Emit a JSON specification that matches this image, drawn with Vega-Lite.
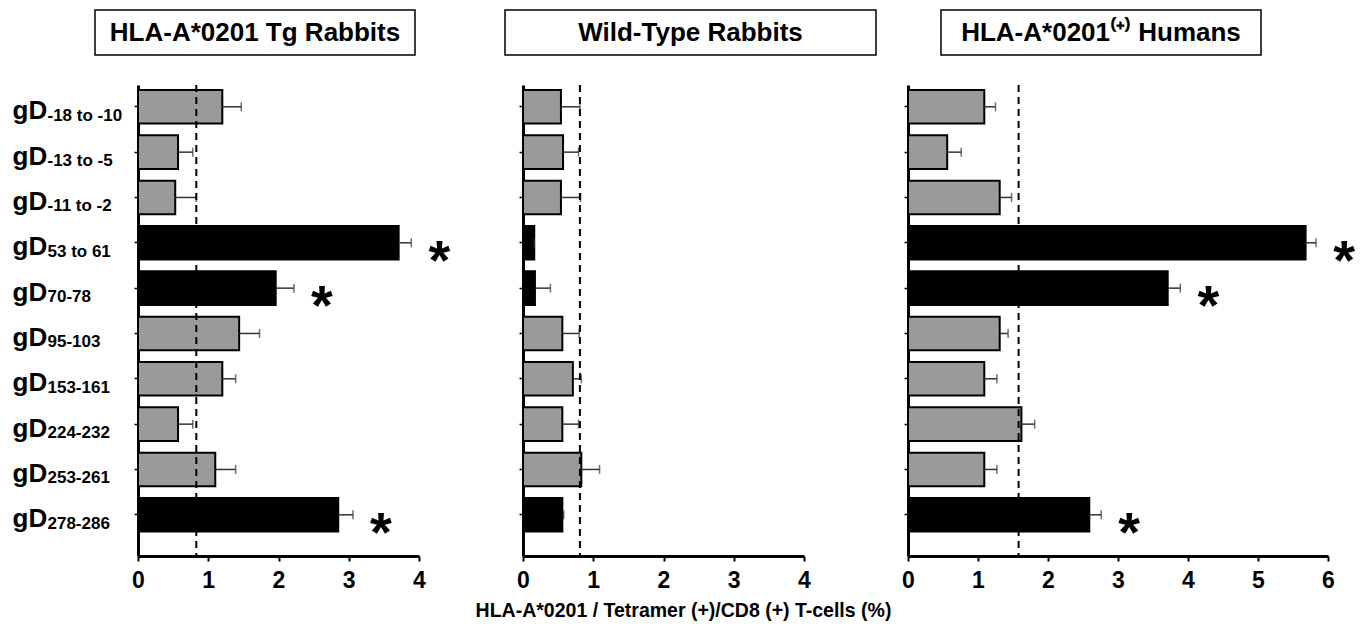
{
  "$schema": "https://vega.github.io/schema/vega-lite/v6.json",
  "background": "white",
  "padding": {"left": 12, "top": 9, "right": 5, "bottom": 5},
  "config": {
    "font": "Liberation Sans",
    "view": {"stroke": null},
    "axis": {"grid": false, "domainColor": "black", "tickColor": "black", "labelColor": "black", "labelFont": "Liberation Sans", "labelFontWeight": "bold"},
    "title": {"font": "Liberation Sans"}
  },
  "title": {"text": "HLA-A*0201 / Tetramer (+)/CD8 (+) T-cells (%)", "orient": "bottom", "anchor": "middle", "fontSize": 19.5, "fontWeight": "bold", "color": "black", "offset": 10},
  "datasets": {
    "bars": [
      {"panel": "tg", "epitope": "-18 to -10", "mean": 1.20, "upper": 1.47, "dominant": "no", "star": false},
      {"panel": "tg", "epitope": "-13 to -5", "mean": 0.57, "upper": 0.78, "dominant": "no", "star": false},
      {"panel": "tg", "epitope": "-11 to -2", "mean": 0.53, "upper": 0.83, "dominant": "no", "star": false},
      {"panel": "tg", "epitope": "53 to 61", "mean": 3.71, "upper": 3.89, "dominant": "yes", "star": true},
      {"panel": "tg", "epitope": "70-78", "mean": 1.96, "upper": 2.22, "dominant": "yes", "star": true},
      {"panel": "tg", "epitope": "95-103", "mean": 1.44, "upper": 1.73, "dominant": "no", "star": false},
      {"panel": "tg", "epitope": "153-161", "mean": 1.20, "upper": 1.39, "dominant": "no", "star": false},
      {"panel": "tg", "epitope": "224-232", "mean": 0.57, "upper": 0.78, "dominant": "no", "star": false},
      {"panel": "tg", "epitope": "253-261", "mean": 1.10, "upper": 1.39, "dominant": "no", "star": false},
      {"panel": "tg", "epitope": "278-286", "mean": 2.85, "upper": 3.06, "dominant": "yes", "star": true},
      {"panel": "wt", "epitope": "-18 to -10", "mean": 0.54, "upper": 0.81, "dominant": "no", "star": false},
      {"panel": "wt", "epitope": "-13 to -5", "mean": 0.57, "upper": 0.79, "dominant": "no", "star": false},
      {"panel": "wt", "epitope": "-11 to -2", "mean": 0.54, "upper": 0.82, "dominant": "no", "star": false},
      {"panel": "wt", "epitope": "53 to 61", "mean": 0.16, "upper": 0.16, "dominant": "yes", "star": false},
      {"panel": "wt", "epitope": "70-78", "mean": 0.17, "upper": 0.39, "dominant": "yes", "star": false},
      {"panel": "wt", "epitope": "95-103", "mean": 0.56, "upper": 0.80, "dominant": "no", "star": false},
      {"panel": "wt", "epitope": "153-161", "mean": 0.71, "upper": 0.83, "dominant": "no", "star": false},
      {"panel": "wt", "epitope": "224-232", "mean": 0.56, "upper": 0.79, "dominant": "no", "star": false},
      {"panel": "wt", "epitope": "253-261", "mean": 0.83, "upper": 1.09, "dominant": "no", "star": false},
      {"panel": "wt", "epitope": "278-286", "mean": 0.56, "upper": 0.58, "dominant": "yes", "star": false},
      {"panel": "hu", "epitope": "-18 to -10", "mean": 1.09, "upper": 1.25, "dominant": "no", "star": false},
      {"panel": "hu", "epitope": "-13 to -5", "mean": 0.56, "upper": 0.76, "dominant": "no", "star": false},
      {"panel": "hu", "epitope": "-11 to -2", "mean": 1.31, "upper": 1.48, "dominant": "no", "star": false},
      {"panel": "hu", "epitope": "53 to 61", "mean": 5.68, "upper": 5.83, "dominant": "yes", "star": true},
      {"panel": "hu", "epitope": "70-78", "mean": 3.71, "upper": 3.89, "dominant": "yes", "star": true},
      {"panel": "hu", "epitope": "95-103", "mean": 1.31, "upper": 1.43, "dominant": "no", "star": false},
      {"panel": "hu", "epitope": "153-161", "mean": 1.09, "upper": 1.27, "dominant": "no", "star": false},
      {"panel": "hu", "epitope": "224-232", "mean": 1.62, "upper": 1.81, "dominant": "no", "star": false},
      {"panel": "hu", "epitope": "253-261", "mean": 1.09, "upper": 1.27, "dominant": "no", "star": false},
      {"panel": "hu", "epitope": "278-286", "mean": 2.59, "upper": 2.76, "dominant": "yes", "star": true}
    ],
    "cutoffs": [
      {"panel": "tg", "cutoff": 0.83},
      {"panel": "wt", "cutoff": 0.81},
      {"panel": "hu", "cutoff": 1.58}
    ]
  },
  "spacing": 28,
  "vconcat": [
    {
      "spacing": 0,
      "bounds": "flush",
      "hconcat": [
        {"width": 83, "height": 45, "data": {"values": []}, "mark": "point"},
        {"width": 320, "height": 45, "view": {"stroke": "black", "strokeWidth": 1.5},
         "data": {"values": [{"t": "HLA-A*0201  Tg Rabbits"}]},
         "mark": {"type": "text", "fontSize": 26, "fontWeight": "bold", "color": "black", "font": "Liberation Sans"},
         "encoding": {"text": {"field": "t"}}},
        {"width": 90, "height": 45, "data": {"values": []}, "mark": "point"},
        {"width": 371, "height": 45, "view": {"stroke": "black", "strokeWidth": 1.5},
         "data": {"values": [{"t": "Wild-Type Rabbits"}]},
         "mark": {"type": "text", "fontSize": 26, "fontWeight": "bold", "color": "black", "font": "Liberation Sans"},
         "encoding": {"text": {"field": "t"}}},
        {"width": 65, "height": 45, "data": {"values": []}, "mark": "point"},
        {"width": 320, "height": 45, "view": {"stroke": "black", "strokeWidth": 1.5},
         "data": {"values": [{"t": "HLA-A*0201⁽⁺⁾ Humans"}]},
         "mark": {"type": "text", "fontSize": 26, "fontWeight": "bold", "color": "black", "font": "Liberation Sans"},
         "encoding": {"text": {"field": "t"}}}
      ]
    },
    {
      "spacing": 104,
      "bounds": "flush",
      "hconcat": [
        {
          "width": 22, "height": 471,
          "resolve": {"axis": {"y": "independent"}},
          "layer": [
            {
              "data": {"name": "bars"},
              "transform": [{"filter": "datum.panel === 'tg'"}],
              "mark": {"type": "point", "opacity": 0, "size": 0},
              "encoding": {
                "x": {"datum": 0.5, "type": "quantitative", "scale": {"domain": [0, 1]}, "axis": null},
                "y": {"field": "epitope", "type": "nominal", "sort": null,
                      "scale": {"type": "band", "paddingInner": 0.26, "paddingOuter": 0.325, "align": 0.171},
                      "axis": {"title": null, "orient": "left", "labelExpr": "'gD'", "labelAlign": "left", "labelPadding": 0, "ticks": false, "tickSize": 0, "domain": false, "labelFontSize": 26, "labelBaseline": "alphabetic", "labelOffset": 12.5, "labelOverlap": false}}
              }
            },
            {
              "data": {"name": "bars"},
              "transform": [{"filter": "datum.panel === 'tg'"}],
              "mark": {"type": "point", "opacity": 0, "size": 0},
              "encoding": {
                "x": {"datum": 0.5, "type": "quantitative", "axis": null},
                "y": {"field": "epitope", "type": "nominal", "sort": null,
                      "axis": {"title": null, "orient": "right", "labelAlign": "left", "labelPadding": 13, "ticks": false, "tickSize": 0, "domain": false, "labelFontSize": 17, "labelBaseline": "alphabetic", "labelOffset": 14, "labelOverlap": false}}
              }
            }
          ]
        },
        {
          "width": 281, "height": 471,
          "layer": [
            {
              "data": {"name": "bars"},
              "transform": [{"filter": "datum.panel === 'tg'"}],
              "mark": {"type": "bar", "stroke": "black", "strokeWidth": 2},
              "encoding": {
                "y": {"field": "epitope", "type": "nominal", "sort": null,
                      "scale": {"paddingInner": 0.26, "paddingOuter": 0.325, "align": 0.171},
                      "axis": {"title": null, "labels": false, "tickSize": 4, "tickWidth": 1.5, "domainWidth": 3}},
                "x": {"field": "mean", "type": "quantitative",
                      "scale": {"domain": [0, 4], "nice": false},
                      "axis": {"title": null, "values": [0, 0.5, 1, 1.5, 2, 2.5, 3, 3.5, 4], "labelExpr": "datum.value % 1 === 0 ? '' + datum.value : ''", "domainWidth": 3, "tickWidth": 2, "tickSize": 5, "labelFontSize": 23, "labelPadding": 8, "labelFlush": false, "labelOverlap": false}},
                "fill": {"field": "dominant", "type": "nominal", "scale": {"domain": ["yes", "no"], "range": ["black", "#9a9a9a"]}, "legend": null}
              }
            },
            {
              "data": {"name": "bars"},
              "transform": [{"filter": "datum.panel === 'tg'"}],
              "mark": {"type": "rule", "strokeWidth": 1.5, "color": "#333"},
              "encoding": {
                "y": {"field": "epitope", "type": "nominal", "sort": null, "axis": {"title": null}},
                "x": {"field": "mean", "type": "quantitative", "axis": {"title": null}},
                "x2": {"field": "upper"}
              }
            },
            {
              "data": {"name": "bars"},
              "transform": [{"filter": "datum.panel === 'tg'"}],
              "mark": {"type": "tick", "thickness": 1.5, "size": 9, "color": "#333"},
              "encoding": {
                "y": {"field": "epitope", "type": "nominal", "sort": null, "axis": {"title": null}},
                "x": {"field": "upper", "type": "quantitative", "axis": {"title": null}}
              }
            },
            {
              "data": {"name": "cutoffs"},
              "transform": [{"filter": "datum.panel === 'tg'"}],
              "mark": {"type": "rule", "strokeWidth": 2, "strokeDash": [7, 5], "color": "black"},
              "encoding": {"x": {"field": "cutoff", "type": "quantitative", "axis": {"title": null}}}
            },
            {
              "data": {"name": "bars"},
              "transform": [{"filter": "datum.panel === 'tg' && datum.star"}],
              "mark": {"type": "text", "text": "*", "fontSize": 56, "fontWeight": "bold", "font": "Liberation Sans", "align": "center", "baseline": "alphabetic", "dx": 28, "dy": 36, "color": "black"},
              "encoding": {
                "y": {"field": "epitope", "type": "nominal", "sort": null, "axis": {"title": null}},
                "x": {"field": "upper", "type": "quantitative", "axis": {"title": null}}
              }
            }
          ]
        },
        {
          "width": 281, "height": 471,
          "layer": [
            {
              "data": {"name": "bars"},
              "transform": [{"filter": "datum.panel === 'wt'"}],
              "mark": {"type": "bar", "stroke": "black", "strokeWidth": 2},
              "encoding": {
                "y": {"field": "epitope", "type": "nominal", "sort": null,
                      "scale": {"paddingInner": 0.26, "paddingOuter": 0.325, "align": 0.171},
                      "axis": {"title": null, "labels": false, "tickSize": 4, "tickWidth": 1.5, "domainWidth": 3}},
                "x": {"field": "mean", "type": "quantitative",
                      "scale": {"domain": [0, 4], "nice": false},
                      "axis": {"title": null, "values": [0, 0.5, 1, 1.5, 2, 2.5, 3, 3.5, 4], "labelExpr": "datum.value % 1 === 0 ? '' + datum.value : ''", "domainWidth": 3, "tickWidth": 2, "tickSize": 5, "labelFontSize": 23, "labelPadding": 8, "labelFlush": false, "labelOverlap": false}},
                "fill": {"field": "dominant", "type": "nominal", "scale": {"domain": ["yes", "no"], "range": ["black", "#9a9a9a"]}, "legend": null}
              }
            },
            {
              "data": {"name": "bars"},
              "transform": [{"filter": "datum.panel === 'wt'"}],
              "mark": {"type": "rule", "strokeWidth": 1.5, "color": "#333"},
              "encoding": {
                "y": {"field": "epitope", "type": "nominal", "sort": null, "axis": {"title": null}},
                "x": {"field": "mean", "type": "quantitative", "axis": {"title": null}},
                "x2": {"field": "upper"}
              }
            },
            {
              "data": {"name": "bars"},
              "transform": [{"filter": "datum.panel === 'wt'"}],
              "mark": {"type": "tick", "thickness": 1.5, "size": 9, "color": "#333"},
              "encoding": {
                "y": {"field": "epitope", "type": "nominal", "sort": null, "axis": {"title": null}},
                "x": {"field": "upper", "type": "quantitative", "axis": {"title": null}}
              }
            },
            {
              "data": {"name": "cutoffs"},
              "transform": [{"filter": "datum.panel === 'wt'"}],
              "mark": {"type": "rule", "strokeWidth": 2, "strokeDash": [7, 5], "color": "black"},
              "encoding": {"x": {"field": "cutoff", "type": "quantitative", "axis": {"title": null}}}
            }
          ]
        },
        {
          "width": 420, "height": 471,
          "layer": [
            {
              "data": {"name": "bars"},
              "transform": [{"filter": "datum.panel === 'hu'"}],
              "mark": {"type": "bar", "stroke": "black", "strokeWidth": 2},
              "encoding": {
                "y": {"field": "epitope", "type": "nominal", "sort": null,
                      "scale": {"paddingInner": 0.26, "paddingOuter": 0.325, "align": 0.171},
                      "axis": {"title": null, "labels": false, "tickSize": 4, "tickWidth": 1.5, "domainWidth": 3}},
                "x": {"field": "mean", "type": "quantitative",
                      "scale": {"domain": [0, 6], "nice": false},
                      "axis": {"title": null, "values": [0, 0.5, 1, 1.5, 2, 2.5, 3, 3.5, 4, 4.5, 5, 5.5, 6], "labelExpr": "datum.value % 1 === 0 ? '' + datum.value : ''", "domainWidth": 3, "tickWidth": 2, "tickSize": 5, "labelFontSize": 23, "labelPadding": 8, "labelFlush": false, "labelOverlap": false}},
                "fill": {"field": "dominant", "type": "nominal", "scale": {"domain": ["yes", "no"], "range": ["black", "#9a9a9a"]}, "legend": null}
              }
            },
            {
              "data": {"name": "bars"},
              "transform": [{"filter": "datum.panel === 'hu'"}],
              "mark": {"type": "rule", "strokeWidth": 1.5, "color": "#333"},
              "encoding": {
                "y": {"field": "epitope", "type": "nominal", "sort": null, "axis": {"title": null}},
                "x": {"field": "mean", "type": "quantitative", "axis": {"title": null}},
                "x2": {"field": "upper"}
              }
            },
            {
              "data": {"name": "bars"},
              "transform": [{"filter": "datum.panel === 'hu'"}],
              "mark": {"type": "tick", "thickness": 1.5, "size": 9, "color": "#333"},
              "encoding": {
                "y": {"field": "epitope", "type": "nominal", "sort": null, "axis": {"title": null}},
                "x": {"field": "upper", "type": "quantitative", "axis": {"title": null}}
              }
            },
            {
              "data": {"name": "cutoffs"},
              "transform": [{"filter": "datum.panel === 'hu'"}],
              "mark": {"type": "rule", "strokeWidth": 2, "strokeDash": [7, 5], "color": "black"},
              "encoding": {"x": {"field": "cutoff", "type": "quantitative", "axis": {"title": null}}}
            },
            {
              "data": {"name": "bars"},
              "transform": [{"filter": "datum.panel === 'hu' && datum.star"}],
              "mark": {"type": "text", "text": "*", "fontSize": 56, "fontWeight": "bold", "font": "Liberation Sans", "align": "center", "baseline": "alphabetic", "dx": 28, "dy": 36, "color": "black"},
              "encoding": {
                "y": {"field": "epitope", "type": "nominal", "sort": null, "axis": {"title": null}},
                "x": {"field": "upper", "type": "quantitative", "axis": {"title": null}}
              }
            }
          ]
        }
      ]
    }
  ]
}
